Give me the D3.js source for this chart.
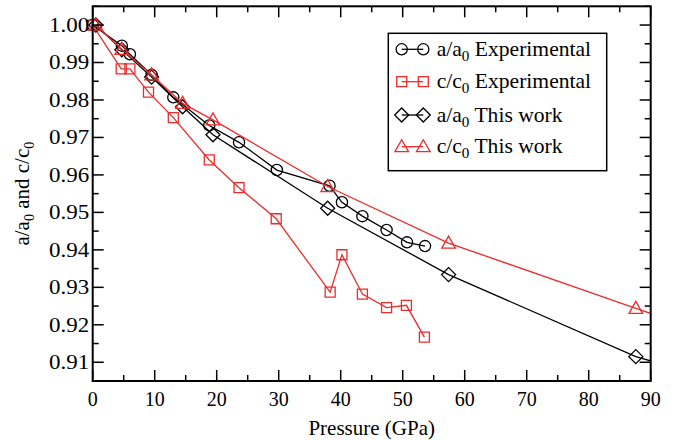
<!DOCTYPE html>
<html><head><meta charset="utf-8">
<script src="https://cdn.jsdelivr.net/npm/d3@7"></script>
<style>body{margin:0;background:#fff}svg{display:block}</style>
</head><body><svg id="c" width="673" height="440"></svg>
<script>
// ---- data ----
const xTicks = [0,10,20,30,40,50,60,70,80,90];
const yTicks = [0.91,0.92,0.93,0.94,0.95,0.96,0.97,0.98,0.99,1.00];
const expPa = [0, 4.7, 6.0, 9.5, 13.0, 18.8, 23.6, 29.7, 38.2, 40.2, 43.5, 47.4, 50.7, 53.6];
const expA  = [1.000, 0.9945, 0.9922, 0.9867, 0.9807, 0.9732, 0.9687, 0.9613, 0.9571, 0.9527, 0.9490, 0.9453, 0.9420, 0.9410];
const expPc = [0, 4.6, 6.0, 9.0, 13.0, 18.8, 23.6, 29.6, 38.3, 40.2, 43.5, 47.4, 50.6, 53.5];
const expC  = [1.000, 0.9883, 0.9883, 0.9821, 0.9753, 0.9640, 0.9566, 0.9483, 0.9287, 0.9387, 0.9282, 0.9246, 0.9252, 0.9167];
const thisP = [0.5, 4.7, 9.5, 14.5, 19.4, 37.9, 57.4, 87.6, 100];
const thisA = [1.000, 0.9934, 0.9861, 0.9782, 0.9707, 0.9511, 0.9334, 0.9115, 0.9056];
const thisC = [1.000, 0.9935, 0.9867, 0.9791, 0.9747, 0.9569, 0.9418, 0.9244, 0.9173];
const seriesNames = ["a/a0 Experimental","c/c0 Experimental","a/a0 This work","c/c0 This work"];

const FONT = "Liberation Serif, DejaVu Serif, serif";
const FS = 20, SUBFS = 14;
const RED = "#ee2b2b";
const svg = d3.select("#c");
const L=92.7, R=650.7, T=6.3, B=381;
const x = d3.scaleLinear().domain([0,90]).range([L,R]);
const y = d3.scaleLinear().domain([0.905,1.005]).range([B,T]);

svg.append("defs").append("clipPath").attr("id","clip")
  .append("rect").attr("x",L).attr("y",T).attr("width",R-L).attr("height",B-T);

const series = [
  {P:expPa, V:expA, color:"#000", sym:"circle"},
  {P:expPc, V:expC, color:RED, sym:"square"},
  {P:thisP, V:thisA, color:"#000", sym:"diamond"},
  {P:thisP, V:thisC, color:RED, sym:"triangle"}
];

function symPath(s){
  switch(s){
    case "circle": return "M5.6,0A5.6,5.6 0 1,1 -5.6,0A5.6,5.6 0 1,1 5.6,0Z";
    case "square": return "M-5,-5H5V5H-5Z";
    case "diamond": return "M0,-7L7,0L0,7L-7,0Z";
    case "triangle": return "M0,-7L6.8,5L-6.8,5Z";
  }
}

const line = d3.line().x(d=>x(d[0])).y(d=>y(d[1]));
series.forEach(s=>{
  const pts = s.P.map((p,i)=>[p,s.V[i]]);
  svg.append("path").attr("d",line(pts)).attr("fill","none")
    .attr("stroke",s.color).attr("stroke-width",1.3).attr("clip-path","url(#clip)");
  svg.append("g").selectAll("path").data(pts.filter(d=>d[0]<=90)).join("path")
    .attr("transform",d=>`translate(${x(d[0])},${y(d[1])})`)
    .attr("d",symPath(s.sym)).attr("fill","none").attr("stroke",s.color).attr("stroke-width",1.3);
});

// axes with inward ticks on all four sides
const ax = svg.append("g").attr("stroke","#000").attr("stroke-width",1.5);
const xMinor = d3.range(0,91,5);
const yMinor = d3.range(0,21).map(i=>+(0.905+i*0.005).toFixed(3));
xMinor.forEach(v=>{
  const len = v%10===0 ? 11 : 6;
  ax.append("line").attr("x1",x(v)).attr("x2",x(v)).attr("y1",B).attr("y2",B-len);
  ax.append("line").attr("x1",x(v)).attr("x2",x(v)).attr("y1",T).attr("y2",T+len);
});
yMinor.forEach(v=>{
  const major = yTicks.some(t=>Math.abs(t-v)<1e-6);
  const len = major ? 11 : 6;
  ax.append("line").attr("y1",y(v)).attr("y2",y(v)).attr("x1",L).attr("x2",L+len);
  ax.append("line").attr("y1",y(v)).attr("y2",y(v)).attr("x1",R).attr("x2",R-len);
});
svg.append("rect").attr("x",L).attr("y",T).attr("width",R-L).attr("height",B-T)
  .attr("fill","none").attr("stroke","#000").attr("stroke-width",2);

// tick labels
svg.append("g").selectAll("text").data(xTicks).join("text")
  .style("font-family",FONT)
  .attr("x",d=>x(d)).attr("y",405.5).attr("text-anchor","middle").style("font-size",FS+"px").text(d=>d);
svg.append("g").selectAll("text").data(yTicks).join("text")
  .style("font-family",FONT)
  .attr("transform",d=>`translate(89.3,${y(d)+6.8}) scale(1.15,1)`)
  .attr("text-anchor","end").style("font-size",FS+"px").text(d=>d.toFixed(2));

// axis titles
svg.append("text").style("font-family",FONT).attr("x",(L+R)/2).attr("y",435).attr("text-anchor","middle").style("font-size","21px").text("Pressure (GPa)");
const yl = svg.append("text").style("font-family",FONT).attr("transform",`translate(29,${(T+B)/2}) rotate(-90)`).attr("text-anchor","middle").style("font-size","21px");
yl.append("tspan").text("a/a");
yl.append("tspan").style("font-size",SUBFS+"px").attr("dy",5).text("0");
yl.append("tspan").attr("dy",-5).text(" and c/c");
yl.append("tspan").style("font-size",SUBFS+"px").attr("dy",5).text("0");

// legend
svg.append("rect").attr("x",388.3).attr("y",33.3).attr("width",218.4).attr("height",137.4)
  .attr("fill","#fff").attr("stroke","#000").attr("stroke-width",1.5);
const rowsY = [49.3, 81.7, 115, 146.7];
series.forEach((s,i)=>{
  const yy = rowsY[i];
  svg.append("line").attr("x1",401.7).attr("x2",423.3).attr("y1",yy).attr("y2",yy).attr("stroke",s.color).attr("stroke-width",1.3);
  [401.7,423.3].forEach(xx=>svg.append("path").attr("transform",`translate(${xx},${yy})`)
    .attr("d",symPath(s.sym)).attr("fill","none").attr("stroke",s.color).attr("stroke-width",1.3));
  const parts = seriesNames[i].split("0");
  const t = svg.append("text").style("font-family",FONT)
    .attr("transform",`translate(436.7,${yy+6.5}) scale(1.08,1)`).style("font-size",FS+"px");
  t.append("tspan").text(parts[0]);
  t.append("tspan").style("font-size",SUBFS+"px").attr("dy",5).text("0");
  t.append("tspan").attr("dy",-5).text(parts[1]);
});
</script></body></html>
